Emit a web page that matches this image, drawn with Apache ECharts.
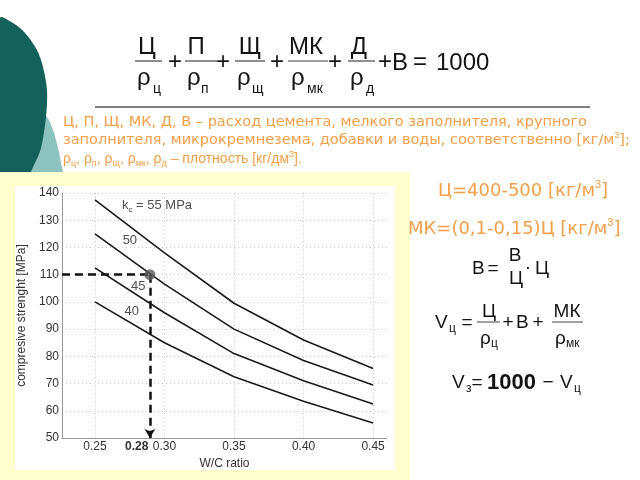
<!DOCTYPE html>
<html><head><meta charset="utf-8">
<script src="https://cdn.jsdelivr.net/npm/echarts@6/dist/echarts.min.js"></script>
<style>html,body{margin:0;padding:0;background:#fff}#c{width:640px;height:480px}</style>
</head><body><div id="c"></div>
<script>
// ---- data ----
const wcRatio = [0.25, 0.30, 0.35, 0.40, 0.45];
const strengthK55 = [137.5, 118, 99.5, 86, 75.5];
const strengthK50 = [125, 106.5, 90, 78.5, 69.5];
const strengthK45 = [112.5, 96, 81, 71, 62.5];
const strengthK40 = [100, 85, 72.5, 63.5, 55.5];
const curveLabels = ['{n|k}{s|c} = 55 MPa', '50', '45', '40'];
const curveLabelAt = [[0.2946, 135.6], [0.2751, 122.7], [0.2811, 105.6], [0.2764, 96.4]];
const xLabelValues = [0.25, 0.28, 0.30, 0.35, 0.40, 0.45];
const xGridValues = [0.25, 0.30, 0.35, 0.40, 0.45];
const exampleWC = 0.2895;
const exampleStrength = 110;
const xMin = 0.2263, xMax = 0.46, yMin = 50, yMax = 140, yStep = 10;

const pairs = (xs, ys) => xs.map((x, i) => [x, ys[i]]);
const curves = [strengthK55, strengthK50, strengthK45, strengthK40];

// ---- slide decorations / texts ----
const ORANGE = '#F2A04A', INK = '#141414';
const g = [];
function txt(x, y, text, font, opt) {
  opt = opt || {};
  g.push({type: 'text', x: x, y: y, z: 20, silent: true,
    style: Object.assign({text: text, font: font, fill: opt.fill || INK,
      align: opt.align || 'left', verticalAlign: 'middle'}, opt.style || {})});
}
function hline(x1, x2, y, w, c) {
  g.push({type: 'line', z: 20, silent: true, shape: {x1: x1, y1: y, x2: x2, y2: y},
    style: {stroke: c || '#333', lineWidth: w || 1}});
}
// background shapes
g.push({type: 'polygon', z: -10, silent: true, shape: {smooth: 0.3, points:
  [[0, 95], [28, 108], [46, 116], [53, 130], [58, 148], [61, 163], [62, 178], [0, 178]]},
  style: {fill: '#8DC3BF'}});
g.push({type: 'polygon', z: -9, silent: true, shape: {smooth: 0.3, points:
  [[0, 18], [13, 23], [25, 33], [37, 50], [43, 67], [47, 90], [46, 117], [41, 148], [34, 165], [26, 178], [0, 178]]},
  style: {fill: '#14605A'}});
g.push({type: 'rect', z: -8, silent: true, shape: {x: 0, y: 172, width: 410, height: 308}, style: {fill: '#FEFECE'}});
g.push({type: 'rect', z: -7, silent: true, shape: {x: 15, y: 186, width: 380, height: 284}, style: {fill: '#FFFFFF'}});

// top formula
const F1 = '24px "Liberation Sans"', F1s = '14px "Liberation Sans"';
const nums = [['Ц', 147], ['П', 196], ['Щ', 250], ['МК', 306], ['Д', 359]];
const bars = [[135, 162], [185, 217], [235, 265], [288, 328], [348, 375]];
const dens = [[137, 153, 'ц'], [187, 201, 'п'], [237, 252, 'щ'], [291, 307, 'мк'], [350, 366, 'д']];
nums.forEach(n => txt(n[1], 47, n[0], F1, {align: 'center'}));
bars.forEach(b => hline(b[0], b[1], 61, 1.2, '#444'));
dens.forEach(d => { txt(d[0], 78, 'ρ', F1); txt(d[1], 89, d[2], F1s); });
[175, 223, 277, 335, 385].forEach(x => txt(x, 62, '+', F1, {align: 'center'}));
txt(392, 63, 'В', F1); txt(420, 62, '=', F1, {align: 'center'}); txt(436, 63, '1000', F1);
hline(95, 590, 107, 1.5, '#555');

// orange description
const O = '14.5px "DejaVu Sans"';
const orRich = {p: {fontSize: 9, lineHeight: 18, verticalAlign: 'top', fill: ORANGE},
  s: {fontSize: 9, lineHeight: 18, verticalAlign: 'bottom', fill: ORANGE}};
txt(63, 122, 'Ц, П, Щ, МК, Д, В – расход цемента, мелкого заполнителя, крупного', O, {fill: ORANGE});
txt(63, 140, 'заполнителя, микрокремнезема, добавки и воды, соответственно [кг/м{p|3}];', O,
  {fill: ORANGE, style: {rich: orRich, lineHeight: 18}});
txt(63, 159, 'ρ{s|ц}, ρ{s|п}, ρ{s|щ}, ρ{s|мк}, ρ{s|д} – плотность [кг/дм{p|3}].', '14px "Liberation Sans"',
  {fill: ORANGE, style: {rich: orRich, lineHeight: 18}});

const O2 = '18px "DejaVu Sans"';
const orRich2 = {p: {fontSize: 11, lineHeight: 24, verticalAlign: 'top', fill: ORANGE}};
txt(438, 191, 'Ц=400-500 [кг/м{p|3}]', O2, {fill: ORANGE, style: {rich: orRich2, lineHeight: 24}});
txt(408, 229, 'МК=(0,1-0,15)Ц [кг/м{p|3}]', O2, {fill: ORANGE, style: {rich: orRich2, lineHeight: 24}});

// right formulas
const F2 = '19px "Liberation Sans"', F2s = '12px "Liberation Sans"';
txt(472, 269, 'В', F2); txt(493, 269, '=', F2, {align: 'center'});
txt(515, 256, 'В', F2, {align: 'center'}); txt(516, 279, 'Ц', F2, {align: 'center'});
txt(528, 268, '·', F2, {align: 'center'}); txt(535, 269, 'Ц', F2);

txt(435, 323, 'V', F2); txt(449, 329, 'ц', F2s); txt(467, 323, '=', F2, {align: 'center'});
txt(489, 312, 'Ц', F2, {align: 'center'}); hline(477, 500, 322, 1, '#444');
txt(480, 339, 'ρ', F2); txt(491, 344, 'ц', F2s);
txt(508, 323, '+', F2, {align: 'center'}); txt(516, 323, 'В', F2); txt(538, 323, '+', F2, {align: 'center'});
txt(567, 312, 'МК', F2, {align: 'center'}); hline(552, 583, 322, 1, '#444');
txt(555, 339, 'ρ', F2); txt(566, 344, 'мк', F2s);

txt(452, 383, 'V', F2); txt(466, 389, 'з', F2s); txt(477, 383, '=', F2, {align: 'center'});
txt(487, 383, '1000', 'bold 22px "Liberation Sans"'); txt(548, 383, '−', F2, {align: 'center'});
txt(560, 383, 'V', F2); txt(574, 389, 'ц', F2s);

// ---- chart ----
const chart = echarts.init(document.getElementById('c'), null, {renderer: 'canvas'});
const axisFont = {fontFamily: 'Liberation Sans', fontSize: 12, color: '#333'};
const series = curves.map((ys, i) => ({
  type: 'line', name: 'k' + [55, 50, 45, 40][i], data: pairs(wcRatio, ys),
  symbol: 'none', smooth: false, silent: true,
  lineStyle: {color: '#1a1a1a', width: 1.6}, z: 5
}));
series.push({
  type: 'line', data: [], silent: true, z: 3,
  markLine: {silent: true, symbol: 'none', label: {show: false},
    lineStyle: {type: [1, 3], color: '#c8c8c8', width: 1},
    data: xGridValues.map(v => ({xAxis: v}))}
});
series.push({
  type: 'line', data: [], silent: true, z: 6,
  markLine: {silent: true, symbol: 'none', label: {show: false}, animation: false,
    lineStyle: {type: [8, 5], color: '#111', width: 2.5},
    data: [
      [{coord: [xMin, exampleStrength]}, {coord: [exampleWC, exampleStrength]}],
      [{coord: [exampleWC, exampleStrength], symbol: 'none'}, {coord: [exampleWC, yMin], symbol: 'arrow', symbolSize: [8, 9]}]
    ]}
});
series.push({
  type: 'scatter', data: [[exampleWC, exampleStrength]], symbolSize: 11, silent: true, z: 7,
  itemStyle: {color: '#5a5a5a'}
});
series.push({
  type: 'scatter', symbolSize: 0, silent: true, z: 8,
  data: curveLabelAt.map((p, i) => ({value: p, name: curveLabels[i]})),
  label: {show: true, position: 'inside', formatter: p => p.name,
    fontFamily: 'Liberation Sans', fontSize: 13, color: '#222',
    rich: {n: {fontSize: 13, color: '#222'}, s: {fontSize: 8, color: '#222', verticalAlign: 'bottom', lineHeight: 18}}}
});

chart.setOption({
  animation: false,
  backgroundColor: 'transparent',
  graphic: {elements: g},
  grid: {left: 62, right: 253, top: 193, bottom: 42, containLabel: false},
  xAxis: {
    type: 'value', min: xMin, max: xMax,
    name: 'W/C ratio', nameLocation: 'middle', nameGap: 20,
    nameTextStyle: {fontFamily: 'Liberation Sans', fontSize: 12, color: '#333'},
    axisLine: {show: true, lineStyle: {color: '#999'}},
    axisTick: {show: false},
    splitLine: {show: false},
    axisLabel: Object.assign({}, axisFont, {margin: 3, customValues: xLabelValues,
      formatter: v => Math.abs(v - 0.28) < 1e-6 ? '{b|0.28}' : v.toFixed(2),
      rich: {b: {fontWeight: 'bold', fontFamily: 'Liberation Sans', fontSize: 12, color: '#333'}}})
  },
  yAxis: {
    type: 'value', min: yMin, max: yMax, interval: yStep,
    name: 'compresive strenght [MPa]', nameLocation: 'middle', nameGap: 29,
    nameTextStyle: {fontFamily: 'Liberation Sans', fontSize: 12, color: '#333'},
    axisLine: {show: true, lineStyle: {color: '#999'}},
    axisTick: {show: false},
    splitLine: {show: true, lineStyle: {type: [1, 3], color: '#c8c8c8'}},
    axisLabel: Object.assign({}, axisFont, {margin: 3})
  },
  series: series
});
</script>
</body></html>
